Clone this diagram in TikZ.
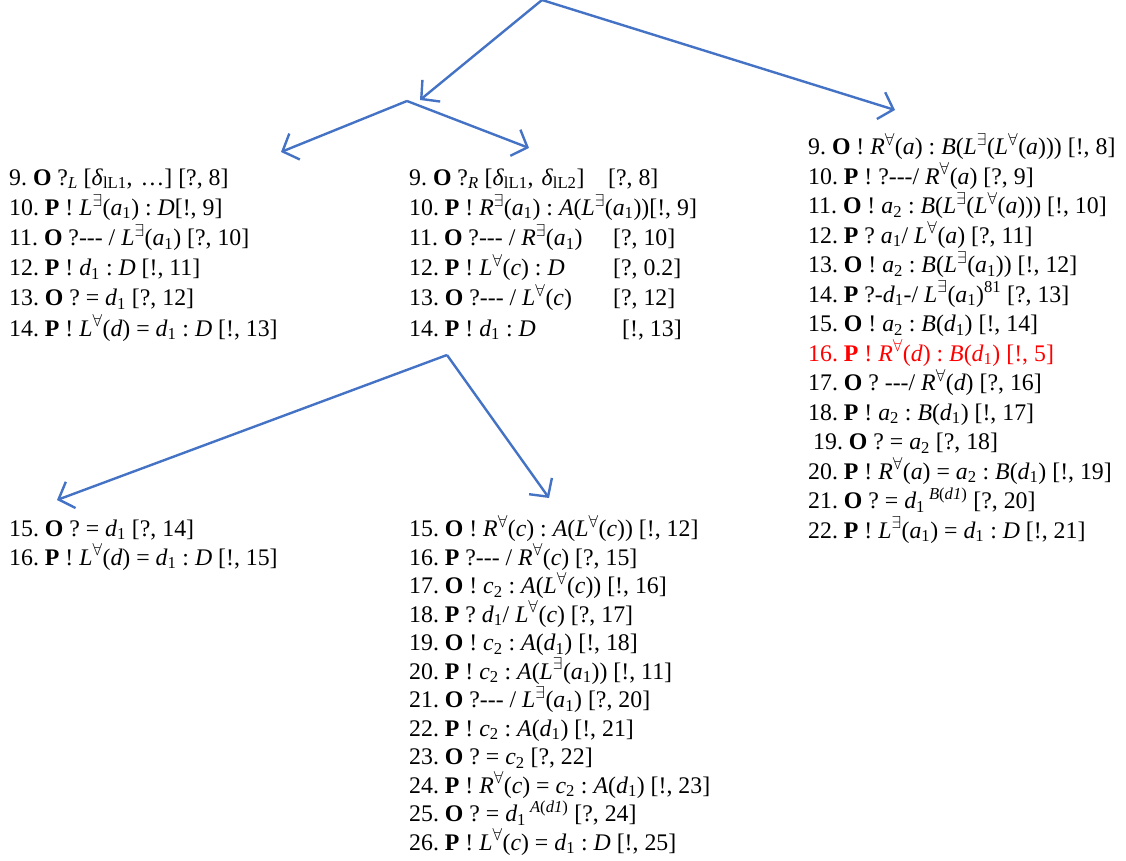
\documentclass[tikz,border=0pt]{standalone}
\usepackage{fontspec}
\setmainfont{Liberation Serif}
\usetikzlibrary{arrows.meta}
\definecolor{arrblue}{HTML}{4472C4}
\definecolor{redtext}{HTML}{FF0000}
\newcommand\mi[1]{\textit{#1}}
\newcommand\sbs[1]{\textsubscript{#1}}
\newcommand\Ex{\textsuperscript{$\exists$}}
\newcommand\Al{\textsuperscript{$\forall$}}
\newcommand\hy{-{}-{}-}
\newcommand\tb[2]{\makebox[#1pt][l]{#2}}
\frenchspacing
\begin{document}
\begin{tikzpicture}[x=1pt,y=-1pt,
  arr/.style={draw=arrblue, line width=2.4pt, -{Straight Barb[length=13pt,width=28pt,line width=2.4pt]}},
  blkA/.style={anchor=base west, inner sep=0pt, align=left, font=\fontsize{23.8}{30.2}\selectfont},
  blkC/.style={anchor=base west, inner sep=0pt, align=left, font=\fontsize{23.8}{29.5}\selectfont},
  blkD/.style={anchor=base west, inner sep=0pt, align=left, font=\fontsize{23.8}{29}\selectfont},
  blkE/.style={anchor=base west, inner sep=0pt, align=left, font=\fontsize{23.8}{28.5}\selectfont}]
\useasboundingbox (0,0) rectangle (1126,861);

% connector points
\coordinate (top) at (542,0);
\coordinate (mid) at (407,101);
\coordinate (midtip) at (420,100);
\coordinate (rtip) at (895,110);
\coordinate (ltipA) at (281,152);
\coordinate (ltipB) at (529,148);
\coordinate (low) at (447,355);
\coordinate (ltipD) at (57,500);
\coordinate (ltipE) at (549,498);

\draw[arr] (top) -- (midtip);
\draw[arr] (top) -- (rtip);
\draw[arr] (mid) -- (ltipA);
\draw[arr] (mid) -- (ltipB);
\draw[arr] (low) -- (ltipD);
\draw[arr] (low) -- (ltipE);

% anchor base west = baseline of the last line
\node[blkA] (A) at (9,336) {%
9. \textbf{O} ?\sbs{\mi{L}} [\mi{δ}\sbs{lL1},\hspace{8pt}…] [?, 8]\\
10. \textbf{P} ! \mi{L}\Ex(\mi{a}\sbs{1}) : \mi{D}[!, 9]\\
11. \textbf{O} ?\hy{} / \mi{L}\Ex(\mi{a}\sbs{1}) [?, 10]\\
12. \textbf{P} ! \mi{d}\sbs{1} : \mi{D} [!, 11]\\
13. \textbf{O} ? = \mi{d}\sbs{1} [?, 12]\\
14. \textbf{P} ! \mi{L}\Al(\mi{d}) = \mi{d}\sbs{1} : \mi{D} [!, 13]};

\node[blkA] (B) at (409,336) {%
\tb{199}{9. \textbf{O} ?\sbs{\mi{R}} [\mi{δ}\sbs{lL1},\hspace{8pt}\mi{δ}\sbs{lL2}]}[?, 8]\\
10. \textbf{P} ! \mi{R}\Ex(\mi{a}\sbs{1}) : \mi{A}(\mi{L}\Ex(\mi{a}\sbs{1}))[!, 9]\\
\tb{204}{11. \textbf{O} ?\hy{} / \mi{R}\Ex(\mi{a}\sbs{1})}[?, 10]\\
\tb{204}{12. \textbf{P} ! \mi{L}\Al(\mi{c}) : \mi{D}}[?, 0.2]\\
\tb{204}{13. \textbf{O} ?\hy{} / \mi{L}\Al(\mi{c})}[?, 12]\\
\tb{213}{14. \textbf{P} ! \mi{d}\sbs{1} : \mi{D}}[!, 13]};

\node[blkC] (C) at (808,538) {%
9. \textbf{O} ! \mi{R}\Al(\mi{a}) : \mi{B}(\mi{L}\Ex(\mi{L}\Al(\mi{a}))) [!, 8]\\
10. \textbf{P} ! ?\hy/ \mi{R}\Al(\mi{a}) [?, 9]\\
11. \textbf{O} ! \mi{a}\sbs{2} : \mi{B}(\mi{L}\Ex(\mi{L}\Al(\mi{a}))) [!, 10]\\
12. \textbf{P} ? \mi{a}\sbs{1}/ \mi{L}\Al(\mi{a}) [?, 11]\\
13. \textbf{O} ! \mi{a}\sbs{2} : \mi{B}(\mi{L}\Ex(\mi{a}\sbs{1})) [!, 12]\\
14. \textbf{P} ?-\mi{d}\sbs{1}-/ \mi{L}\Ex(\mi{a}\sbs{1})\textsuperscript{81} [?, 13]\\
15. \textbf{O} ! \mi{a}\sbs{2} : \mi{B}(\mi{d}\sbs{1}) [!, 14]\\
\textcolor{redtext}{16. \textbf{P} ! \mi{R}\Al(\mi{d}) : \mi{B}(\mi{d}\sbs{1}) [!, 5]}\\
17. \textbf{O} ? \hy/ \mi{R}\Al(\mi{d}) [?, 16]\\
18. \textbf{P} ! \mi{a}\sbs{2} : \mi{B}(\mi{d}\sbs{1}) [!, 17]\\
\hspace*{5pt}19. \textbf{O} ? = \mi{a}\sbs{2} [?, 18]\\
20. \textbf{P} ! \mi{R}\Al(\mi{a}) = \mi{a}\sbs{2} : \mi{B}(\mi{d}\sbs{1}) [!, 19]\\
21. \textbf{O} ? = \mi{d}\sbs{1}\,\textsuperscript{\mi{B}(\mi{d1})} [?, 20]\\
22. \textbf{P} ! \mi{L}\Ex(\mi{a}\sbs{1}) = \mi{d}\sbs{1} : \mi{D} [!, 21]};

\node[blkD] (D) at (9,565) {%
15. \textbf{O} ? = \mi{d}\sbs{1} [?, 14]\\
16. \textbf{P} ! \mi{L}\Al(\mi{d}) = \mi{d}\sbs{1} : \mi{D} [!, 15]};

\node[blkE] (E) at (409,850) {%
15. \textbf{O} ! \mi{R}\Al(\mi{c}) : \mi{A}(\mi{L}\Al(\mi{c})) [!, 12]\\
16. \textbf{P} ?\hy{} / \mi{R}\Al(\mi{c}) [?, 15]\\
17. \textbf{O} ! \mi{c}\sbs{2} : \mi{A}(\mi{L}\Al(\mi{c})) [!, 16]\\
18. \textbf{P} ? \mi{d}\sbs{1}/ \mi{L}\Al(\mi{c}) [?, 17]\\
19. \textbf{O} ! \mi{c}\sbs{2} : \mi{A}(\mi{d}\sbs{1}) [!, 18]\\
20. \textbf{P} ! \mi{c}\sbs{2} : \mi{A}(\mi{L}\Ex(\mi{a}\sbs{1})) [!, 11]\\
21. \textbf{O} ?\hy{} / \mi{L}\Ex(\mi{a}\sbs{1}) [?, 20]\\
22. \textbf{P} ! \mi{c}\sbs{2} : \mi{A}(\mi{d}\sbs{1}) [!, 21]\\
23. \textbf{O} ? = \mi{c}\sbs{2} [?, 22]\\
24. \textbf{P} ! \mi{R}\Al(\mi{c}) = \mi{c}\sbs{2} : \mi{A}(\mi{d}\sbs{1}) [!, 23]\\
25. \textbf{O} ? = \mi{d}\sbs{1}\,\textsuperscript{\mi{A}(\mi{d1})} [?, 24]\\
26. \textbf{P} ! \mi{L}\Al(\mi{c}) = \mi{d}\sbs{1} : \mi{D} [!, 25]};
\end{tikzpicture}
\end{document}
